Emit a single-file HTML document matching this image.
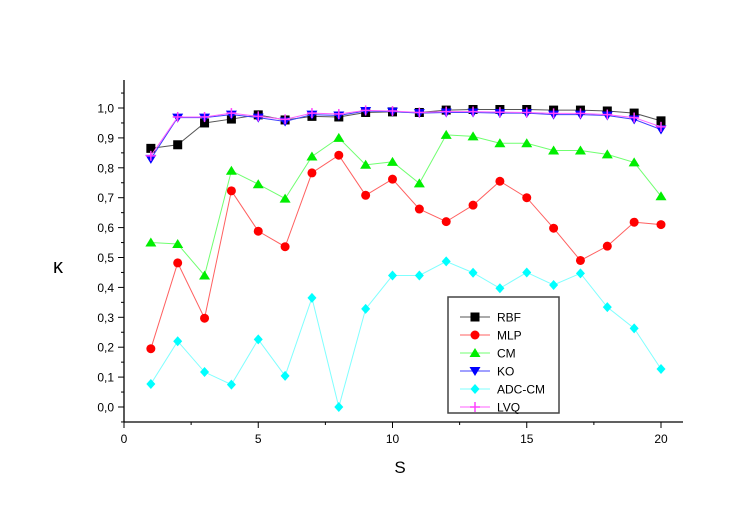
<!DOCTYPE html>
<html><head><meta charset="utf-8"><style>
body{margin:0;background:#fff}
text{font-family:"Liberation Sans",Arial,sans-serif}
</style></head><body>
<svg id="chart" width="747" height="507" xmlns="http://www.w3.org/2000/svg"></svg>
<script>
const xs=[1,2,3,4,5,6,7,8,9,10,11,12,13,14,15,16,17,18,19,20];
const rbf=[.865,.877,.95,.963,.977,.96,.972,.97,.985,.987,.985,.993,.995,.995,.995,.993,.993,.99,.983,.957];
const mlp=[.195,.482,.297,.723,.588,.536,.783,.842,.708,.762,.662,.62,.675,.755,.7,.598,.49,.538,.618,.61];
const cm=[.55,.545,.44,.79,.745,.697,.838,.9,.81,.82,.748,.91,.905,.882,.882,.858,.858,.845,.818,.705];
const ko=[.83,.968,.968,.978,.968,.955,.978,.975,.99,.988,.983,.985,.985,.983,.983,.978,.978,.975,.962,.928];
const adc=[.077,.22,.117,.075,.226,.104,.365,0,.328,.44,.44,.487,.449,.397,.45,.408,.447,.334,.263,.127];
const lvq=[.84,.97,.97,.983,.972,.962,.983,.98,.992,.99,.985,.988,.988,.986,.985,.982,.982,.978,.968,.937];
const xTicks=[0,5,10,15,20];
const yTicks=[0,.1,.2,.3,.4,.5,.6,.7,.8,.9,1.0];
const seriesNames=["RBF","MLP","CM","KO","ADC-CM","LVQ"];

const svg=document.getElementById('chart');
const NS='http://www.w3.org/2000/svg';
const X=v=>124+v*26.85;
const Y=v=>407-v*299;
function el(t,a,p){const e=document.createElementNS(NS,t);for(const k in a)e.setAttribute(k,a[k]);(p||svg).appendChild(e);return e;}

let ax=el('line',{x1:124,y1:422,x2:683,y2:422,stroke:'#000','stroke-width':1.3});


let ay=el('line',{x1:124,y1:80,x2:124,y2:422,stroke:'#000','stroke-width':1.3});


for(let v=0;v<=20.5;v+=2.5){
  const maj=v%5===0;
  el('line',{x1:X(v),y1:422,x2:X(v),y2:422+(maj?6:3),stroke:'#000'});
}
xTicks.forEach(v=>{
  const t=el('text',{x:X(v),y:443,'text-anchor':'middle','font-size':12});t.textContent=v;
  
  
});
for(let i=-1;i<=22;i++){
  const v=i*0.05;const y=Y(v);if(y<82||y>422)continue;
  el('line',{x1:124,y1:y,x2:124-(i%2===0?6:3),y2:y,stroke:'#000'});
}
yTicks.forEach(v=>{
  const t=el('text',{x:114,y:Y(v)+4.5,'text-anchor':'end','font-size':12});t.textContent=v.toFixed(1).replace('.',',');
  
  
});
let yl=el('text',{x:58,y:273,'font-size':20,'text-anchor':'middle'});yl.textContent='κ';


let xl=el('text',{x:400,y:473,'font-size':17,'text-anchor':'middle'});xl.textContent='S';



function marker(g,type,cx,cy,c){
  if(type==='sq')el('rect',{x:cx-4.5,y:cy-4.5,width:9,height:9,fill:c},g);
  else if(type==='ci')el('circle',{cx:cx,cy:cy,r:4.5,fill:c},g);
  else if(type==='up')el('polygon',{points:`${cx},${cy-5} ${cx-5.5},${cy+4} ${cx+5.5},${cy+4}`,fill:c},g);
  else if(type==='dn')el('polygon',{points:`${cx},${cy+5} ${cx-5.5},${cy-4} ${cx+5.5},${cy-4}`,fill:c},g);
  else if(type==='di')el('polygon',{points:`${cx},${cy-5} ${cx+4.5},${cy} ${cx},${cy+5} ${cx-4.5},${cy}`,fill:c},g);
  else if(type==='pl'){el('line',{x1:cx-5,y1:cy,x2:cx+5,y2:cy,stroke:c,'stroke-width':1.5},g);el('line',{x1:cx,y1:cy-5,x2:cx,y2:cy+5,stroke:c,'stroke-width':1.5},g);}
}
const defs=[[adc,'#00ffff','#7fffff','di','series-adc-cm'],[mlp,'#ff0000','#ff6060','ci','series-mlp'],[cm,'#00ee00','#70ff70','up','series-cm'],[rbf,'#000','#555','sq','series-rbf'],[ko,'#0000ff','#4040ff','dn','series-ko'],[lvq,'#ff40ff','#ff60ff','pl','series-lvq']];
defs.forEach(([d,c,lc,m,n])=>{
  const g=el('g',{});
  
  
  el('polyline',{points:xs.map((x,i)=>X(x)+','+Y(d[i])).join(' '),fill:'none',stroke:lc,'stroke-width':1},g);
  xs.forEach((x,i)=>marker(g,m,X(x),Y(d[i]),c));
});
const lg=el('g',{});


el('rect',{x:448,y:297,width:111,height:116,fill:'#fff',stroke:'#444','stroke-width':1.5},lg);
const lt=[['sq','#000','#555'],['ci','#ff0000','#ff6060'],['up','#00ee00','#70ff70'],['dn','#0000ff','#4040ff'],['di','#00ffff','#7fffff'],['pl','#ff40ff','#ff60ff']];
seriesNames.forEach((nm,i)=>{
  const y=317+i*18;
  const g=el('g',{},lg);
  
  
  el('line',{x1:460,y1:y,x2:490,y2:y,stroke:lt[i][2]},g);
  marker(g,lt[i][0],475,y,lt[i][1]);
  const t=el('text',{x:497,y:y+4.5,'font-size':12},g);t.textContent=nm;
});
</script>
</body></html>
